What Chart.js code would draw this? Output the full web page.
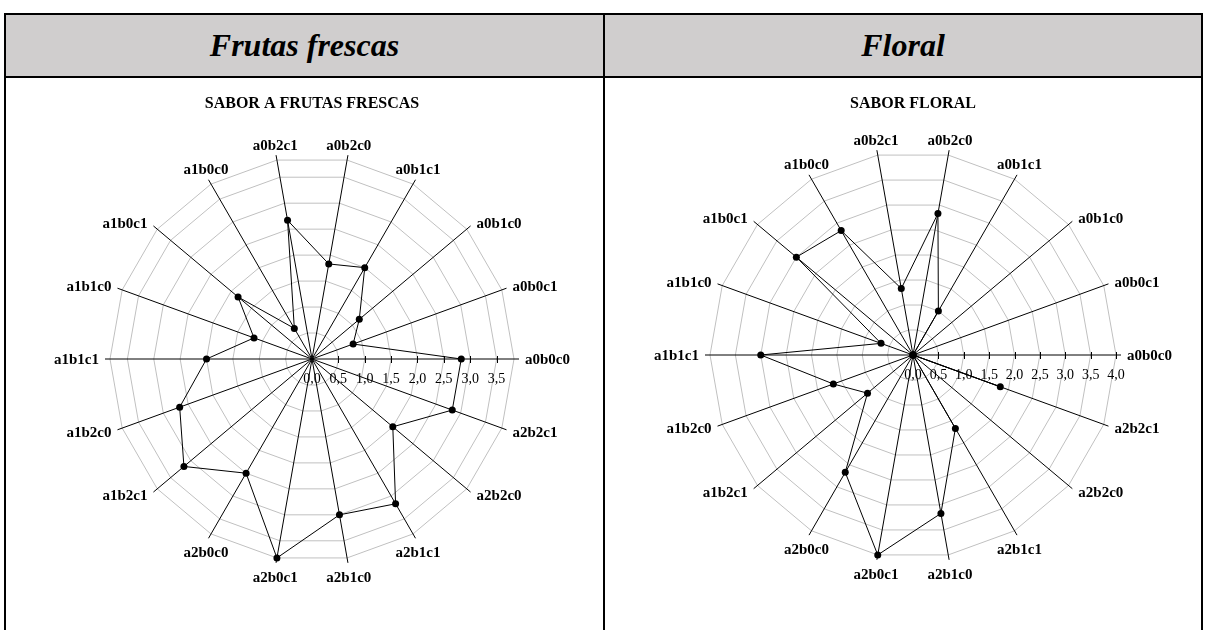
<!DOCTYPE html>
<html>
<head>
<meta charset="utf-8">
<script src="https://cdn.jsdelivr.net/npm/chart.js@4.4.1/dist/chart.umd.min.js"></script>
<style>
  body { margin: 0; background: #fff; width: 1206px; height: 630px; overflow: hidden; position: relative; }
  .ln { position: absolute; background: #000; }
  .hd { position: absolute; top: 15px; height: 61px; background: #d0cece;
        font: bold italic 32px "Liberation Serif", "Times New Roman", serif;
        line-height: 61px; text-align: center; }
  canvas { position: absolute; top: 78px; }
</style>
</head>
<body>
<div class="hd" style="left:6px;width:597px">Frutas frescas</div>
<div class="hd" style="left:605px;width:596px">Floral</div>
<div class="ln" style="left:4px;top:13px;width:1199px;height:2px"></div>
<div class="ln" style="left:4px;top:76px;width:1199px;height:2px"></div>
<div class="ln" style="left:4px;top:13px;width:2px;height:617px"></div>
<div class="ln" style="left:603px;top:13px;width:2px;height:617px"></div>
<div class="ln" style="left:1201px;top:13px;width:2px;height:617px"></div>
<canvas id="chartFrutas" width="597" height="552" style="left:6px"></canvas>
<canvas id="chartFloral" width="596" height="552" style="left:605px"></canvas>
<script>
// categories, counter-clockwise starting at 3 o'clock (as in the original)
var categories = ['a0b0c0', 'a0b0c1', 'a0b1c0', 'a0b1c1', 'a0b2c0', 'a0b2c1',
                  'a1b0c0', 'a1b0c1', 'a1b1c0', 'a1b1c1', 'a1b2c0', 'a1b2c1',
                  'a2b0c0', 'a2b0c1', 'a2b1c0', 'a2b1c1', 'a2b2c0', 'a2b2c1'];
var frutasValues = [2.83, 0.83, 1.17, 2.0, 1.83, 2.67, 0.67, 1.83, 1.17, 2.0,
                    2.67, 3.17, 2.5, 3.83, 3.0, 3.17, 2.0, 2.83];
var floralValues = [0, 0, 0, 1.0, 2.83, 1.33, 2.83, 3.0, 0.67, 3.0,
                    1.67, 1.17, 2.67, 4.0, 3.17, 1.67, 0, 1.83];
var frutasTicks = [0, 0.5, 1, 1.5, 2, 2.5, 3, 3.5];
var floralTicks = [0, 0.5, 1, 1.5, 2, 2.5, 3, 3.5, 4];

Chart.defaults.font.family = '"Liberation Serif", "Times New Roman", serif';
Chart.defaults.color = '#000';

// chart.js goes clockwise, so keep the first one and reverse the rest
function clockwise(arr) {
    return [arr[0]].concat(arr.slice(1).reverse());
}

// spokes, value axis ticks and the category labels, drawn like excel does
var radarDecor = {
    id: 'radarDecor',
    beforeDatasetsDraw: function(chart) {
        var s = chart.scales.r;
        var ctx = chart.ctx;
        var n = chart.data.labels.length;
        var R = s.drawingArea;
        ctx.save();
        ctx.strokeStyle = '#000';
        ctx.lineWidth = 1;
        for (var i = 0; i < n; i++) {
            var p = s.getPointPosition(i, R + 5);
            ctx.beginPath();
            ctx.moveTo(s.xCenter, s.yCenter);
            ctx.lineTo(p.x, p.y);
            ctx.stroke();
        }

        // tick marks + labels under the first axis
        ctx.font = '14px "Liberation Serif", serif';
        ctx.fillStyle = '#000';
        ctx.textAlign = 'center';
        ctx.textBaseline = 'alphabetic';
        s.ticks.forEach(function(t) {
            if (Math.abs(t.value * 2 - Math.round(t.value * 2)) > 1e-6) return;
            var x = s.xCenter + s.getDistanceFromCenterForValue(t.value);
            if (t.value > 0) {
                ctx.beginPath();
                ctx.moveTo(Math.round(x) + 0.5, s.yCenter - 3);
                ctx.lineTo(Math.round(x) + 0.5, s.yCenter + 4);
                ctx.stroke();
            }
            ctx.fillText(t.value.toFixed(1).replace('.', ','), x, s.yCenter + 24);
        });

        // category labels
        ctx.font = 'bold 15px "Liberation Serif", serif';
        for (var j = 0; j < n; j++) {
            var a = s.getIndexAngle(j) - Math.PI / 2;
            var c = Math.cos(a);
            var up = -Math.sin(a);
            var e = s.getPointPosition(j, R + 5);
            var lx, ly;
            if (Math.abs(c) >= 0.6) {
                ctx.textAlign = c > 0 ? 'left' : 'right';
                lx = e.x + (c > 0 ? 6 : -6);
                ly = e.y - 5 * up + 5;
            } else {
                ctx.textAlign = 'center';
                lx = e.x + 5 * c;
                ly = up > 0 ? e.y - 5.5 : e.y + 19;
            }
            ctx.fillText(chart.data.labels[j], lx, ly);
        }
        ctx.restore();
    }
};

function makeRadar(id, title, values, tickValues, pad, titleGap) {
    var maxVal = Math.max.apply(null, values);
    return new Chart(document.getElementById(id), {
        type: 'radar',
        data: {
            labels: clockwise(categories),
            datasets: [{
                data: clockwise(values),
                borderColor: '#000',
                borderWidth: 1,
                backgroundColor: 'transparent',
                fill: false,
                pointRadius: 3.5,
                pointBorderWidth: 0,
                pointBackgroundColor: '#000'
            }]
        },
        options: {
            responsive: false,
            animation: false,
            layout: { padding: pad },
            plugins: {
                legend: { display: false },
                tooltip: { enabled: false },
                title: {
                    display: true,
                    text: title,
                    font: { size: 16, weight: 'bold', lineHeight: 1.2 },
                    padding: { top: 0, bottom: titleGap }
                }
            },
            scales: {
                r: {
                    min: 0,
                    max: maxVal,
                    startAngle: 90,
                    afterBuildTicks: function(scale) {
                        var t = tickValues.map(function(v) { return { value: v }; });
                        if (maxVal > tickValues[tickValues.length - 1]) t.push({ value: maxVal });
                        scale.ticks = t;
                    },
                    ticks: { display: false },
                    grid: { color: '#c0c0c0', lineWidth: 1 },
                    angleLines: { display: false },
                    pointLabels: { display: false }
                }
            }
        },
        plugins: [radarDecor]
    });
}

makeRadar('chartFrutas', 'SABOR A FRUTAS FRESCAS', frutasValues, frutasTicks,
          { left: 104, right: 89, top: 16, bottom: 69 }, 43.8);
makeRadar('chartFloral', 'SABOR FLORAL', floralValues, floralTicks,
          { left: 105, right: 85, top: 16, bottom: 72 }, 38.8);
</script>
</body>
</html>
